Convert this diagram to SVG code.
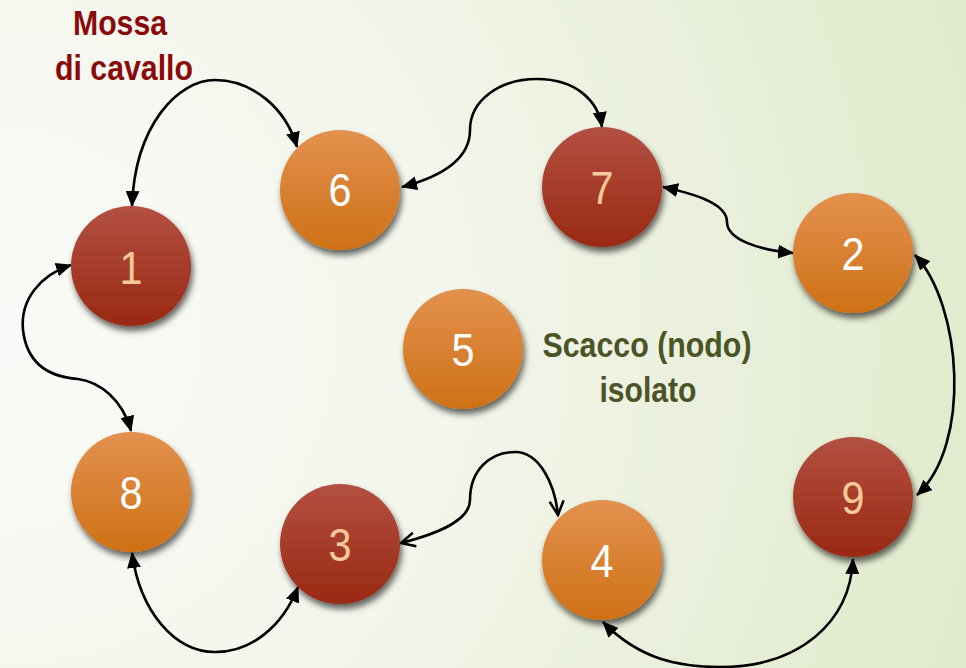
<svg xmlns="http://www.w3.org/2000/svg" width="966" height="668" viewBox="0 0 966 668">
<defs>
<radialGradient id="bg" cx="0" cy="330" r="1100" gradientUnits="userSpaceOnUse">
<stop offset="0" stop-color="#FAFBF8"/>
<stop offset="0.4" stop-color="#F3F6EC"/>
<stop offset="1" stop-color="#DDE8C6"/>
</radialGradient>
<linearGradient id="gRed" x1="0" y1="0" x2="0" y2="1">
<stop offset="0" stop-color="#B35042"/>
<stop offset="1" stop-color="#992912"/>
</linearGradient>
<linearGradient id="gOr" x1="0" y1="0" x2="0" y2="1">
<stop offset="0" stop-color="#E3914F"/>
<stop offset="1" stop-color="#CE7116"/>
</linearGradient>
<filter id="sh" x="-30%" y="-30%" width="160%" height="170%">
<feDropShadow dx="2" dy="5" stdDeviation="3" flood-color="#000" flood-opacity="0.6"/>
</filter>
<marker id="ah" viewBox="0 0 16 14" refX="15" refY="7" markerWidth="16" markerHeight="14" markerUnits="userSpaceOnUse" orient="auto-start-reverse">
<path d="M0 0 L16 7 L0 14 Z" fill="#000"/>
</marker>
<marker id="ao" viewBox="0 0 18 18" refX="16" refY="9" markerWidth="18" markerHeight="18" markerUnits="userSpaceOnUse" orient="auto-start-reverse">
<path d="M2 2 L16 9 L2 16" fill="none" stroke="#000" stroke-width="2.5"/>
</marker>
</defs>
<style>
.edge{fill:none;stroke:#000;stroke-width:2.6}
.f{marker-start:url(#ah);marker-end:url(#ah)}
.o{marker-start:url(#ao);marker-end:url(#ao)}
.red circle{fill:url(#gRed);filter:url(#sh)}
.or circle{fill:url(#gOr);filter:url(#sh)}
.num{font-family:"Liberation Sans",Arial,sans-serif;font-size:47px;text-anchor:middle}
.red .num{fill:#F7C99B}
.or .num{fill:#FFFFFF}
.lbl{font-family:"Liberation Sans Narrow","Liberation Sans",Arial,sans-serif;font-weight:bold;text-anchor:middle}
</style>
<rect width="966" height="668" fill="url(#bg)"/>
<g id="connectors">
<path class="edge f" d="M132 206 C135 125 178 80 215 80 C252 80 286 108 297 147"/>
<path class="edge f" d="M402 187 C440 177 470 160 470 130 C470 100 500 79 537 79 C575 79 598 100 602 127"/>
<path class="edge f" d="M663 187 C700 195 727 205 727 222 C727 240 760 250 793 253"/>
<path class="edge f" d="M915 255 C962 305 972 445 917 495"/>
<path class="edge f" d="M71 265 C40 275 20 300 23 330 C27 365 50 377 78 379 C100 382 123 400 131 431"/>
<path class="edge f" d="M132 553 C140 612 175 652 215 652 C250 652 282 628 298 587"/>
<path class="edge o" d="M401 543 C440 533 470 520 470 500 C470 470 490 452 515 452 C540 452 555 485 558 515"/>
<path class="edge f" d="M603 622 C640 660 680 667 720 667 C800 667 850 622 853 559"/>
</g>
<g id="node1" class="red"><circle cx="131" cy="266" r="60"/><text class="num" x="131" y="284" textLength="23" lengthAdjust="spacingAndGlyphs">1</text></g>
<g id="node6" class="or"><circle cx="340" cy="190" r="60"/><text class="num" x="340" y="206" textLength="23" lengthAdjust="spacingAndGlyphs">6</text></g>
<g id="node7" class="red"><circle cx="602" cy="187" r="60"/><text class="num" x="602" y="204" textLength="23" lengthAdjust="spacingAndGlyphs">7</text></g>
<g id="node2" class="or"><circle cx="853" cy="253" r="60"/><text class="num" x="853" y="270" textLength="23" lengthAdjust="spacingAndGlyphs">2</text></g>
<g id="node5" class="or"><circle cx="463" cy="349" r="60"/><text class="num" x="463" y="366" textLength="23" lengthAdjust="spacingAndGlyphs">5</text></g>
<g id="node8" class="or"><circle cx="131" cy="492" r="60"/><text class="num" x="131" y="509" textLength="23" lengthAdjust="spacingAndGlyphs">8</text></g>
<g id="node3" class="red"><circle cx="340" cy="544" r="60"/><text class="num" x="340" y="561" textLength="23" lengthAdjust="spacingAndGlyphs">3</text></g>
<g id="node4" class="or"><circle cx="602" cy="560" r="60"/><text class="num" x="602" y="577" textLength="23" lengthAdjust="spacingAndGlyphs">4</text></g>
<g id="node9" class="red"><circle cx="853" cy="497" r="60"/><text class="num" x="853" y="514" textLength="23" lengthAdjust="spacingAndGlyphs">9</text></g>
<g id="label-mossa" fill="#8A0A0A">
<text class="lbl" x="120" y="35" font-size="35" textLength="94" lengthAdjust="spacingAndGlyphs">Mossa</text>
<text class="lbl" x="124" y="80" font-size="35" textLength="138" lengthAdjust="spacingAndGlyphs">di cavallo</text>
</g>
<g id="label-scacco" fill="#4A5426">
<text class="lbl" x="647" y="357" font-size="35" textLength="209" lengthAdjust="spacingAndGlyphs">Scacco (nodo)</text>
<text class="lbl" x="648" y="402" font-size="35" textLength="97" lengthAdjust="spacingAndGlyphs">isolato</text>
</g>
</svg>
